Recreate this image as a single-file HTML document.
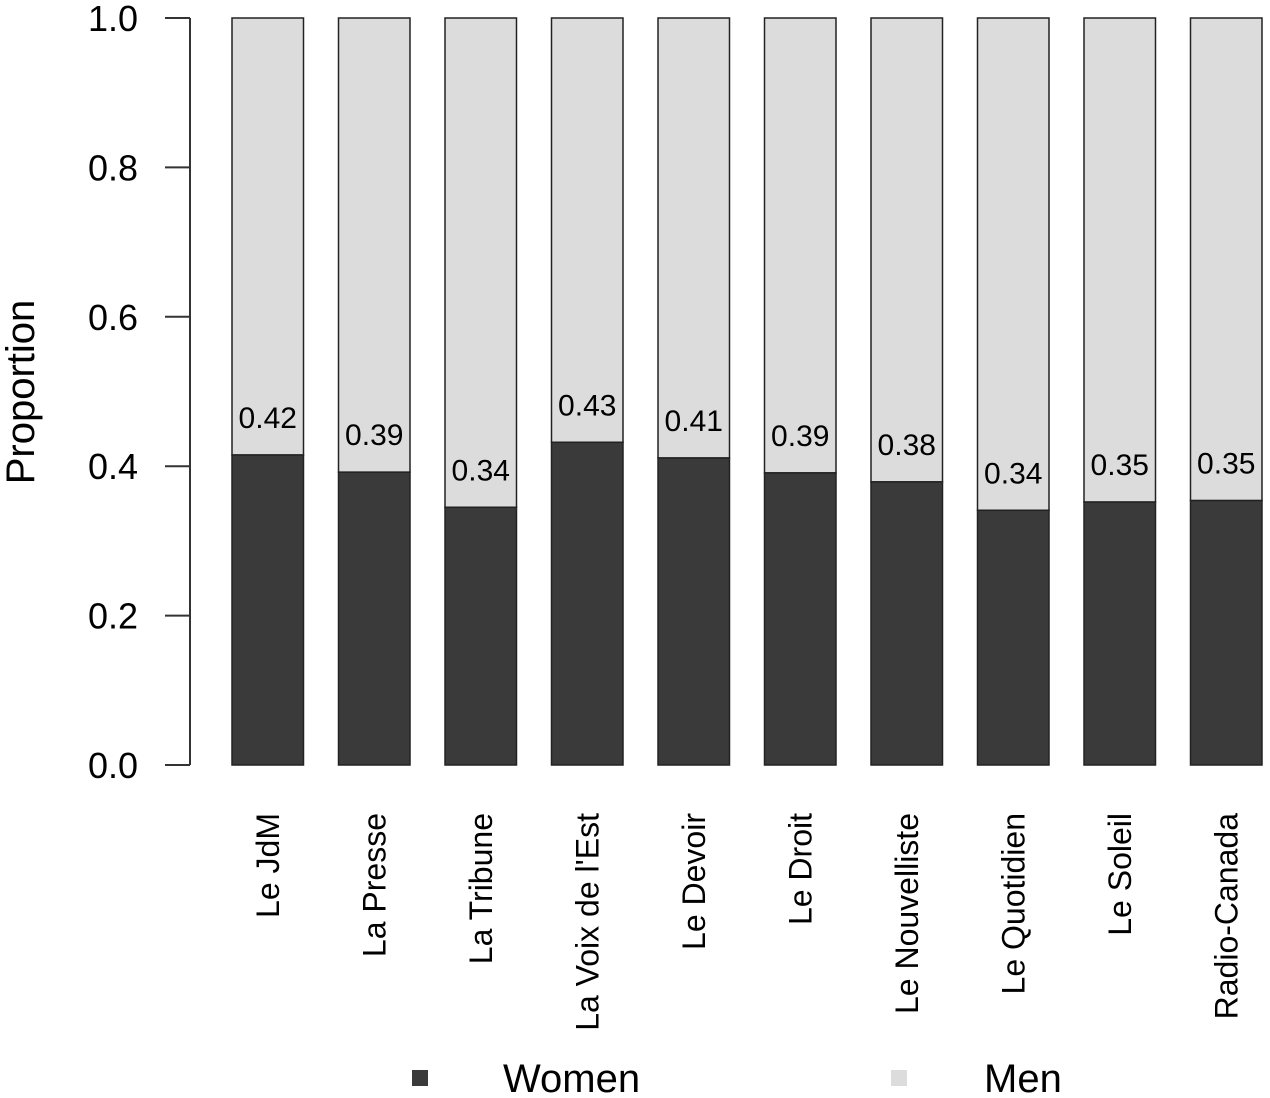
<!DOCTYPE html>
<html><head><meta charset="utf-8"><style>
body{margin:0;background:#fff}
svg{display:block;font-family:"Liberation Sans",Arial,sans-serif}
</style></head><body>
<svg id="chart" width="1270" height="1098">
<g id="axis"></g>
<g id="bars"></g>
<text x="34" y="392" font-size="40" text-anchor="middle" transform="rotate(-90 34 392)">Proportion</text>
<g>
<rect x="412" y="1070" width="16" height="16" fill="#3a3a3a"/>
<text x="503" y="1092" font-size="40">Women</text>
<rect x="891" y="1070" width="16" height="16" fill="#dcdcdc"/>
<text x="984" y="1092" font-size="40">Men</text>
</g>
</svg>
<script>
const categories=["Le JdM","La Presse","La Tribune","La Voix de l'Est","Le Devoir","Le Droit","Le Nouvelliste","Le Quotidien","Le Soleil","Radio-Canada"];
const women=[0.415,0.392,0.345,0.432,0.411,0.391,0.379,0.341,0.352,0.354];
const labels=["0.42","0.39","0.34","0.43","0.41","0.39","0.38","0.34","0.35","0.35"];
const ticks=[0,0.2,0.4,0.6,0.8,1.0];
const tickLabels=["0.0","0.2","0.4","0.6","0.8","1.0"];
const NS="http://www.w3.org/2000/svg";
const y=v=>765-v*747;
const x0=232,step=106.5,bw=71.5;
const xs=i=>x0+i*step;
function mk(t,a,p){const e=document.createElementNS(NS,t);for(const k in a)e.setAttribute(k,a[k]);p.appendChild(e);return e;}
const ax=document.getElementById('axis');
const al=mk('line',{x1:190,x2:190,y1:y(0),y2:y(1),stroke:'#333','stroke-width':2},ax);


ticks.forEach((t,i)=>{
 const l=mk('line',{x1:165,x2:190,y1:y(t),y2:y(t),stroke:'#333','stroke-width':2},ax);
 
 
 const tx=mk('text',{x:138,y:y(t)+13,'font-size':36,'text-anchor':'end'},ax);
 tx.textContent=tickLabels[i];
 
 
});
const bg=document.getElementById('bars');
categories.forEach((c,i)=>{
 const x=xs(i);
 const m=mk('rect',{x:x,y:y(1),width:bw,height:y(women[i])-y(1),fill:'#dcdcdc',stroke:'#222','stroke-width':1.5},bg);
 
 
 const w=mk('rect',{x:x,y:y(women[i]),width:bw,height:y(0)-y(women[i]),fill:'#3a3a3a',stroke:'#222','stroke-width':1.5},bg);
 
 
 const v=mk('text',{x:x+bw/2,y:y(women[i])-27,'font-size':30,'text-anchor':'middle'},bg);
 v.textContent=labels[i];
 
 
 const cx=x+bw/2+11,cy=813;
 const cl=mk('text',{x:cx,y:cy,'font-size':32,'text-anchor':'end',transform:`rotate(-90 ${cx} ${cy})`},bg);
 cl.textContent=c;
 
 
});
</script>
</body></html>
